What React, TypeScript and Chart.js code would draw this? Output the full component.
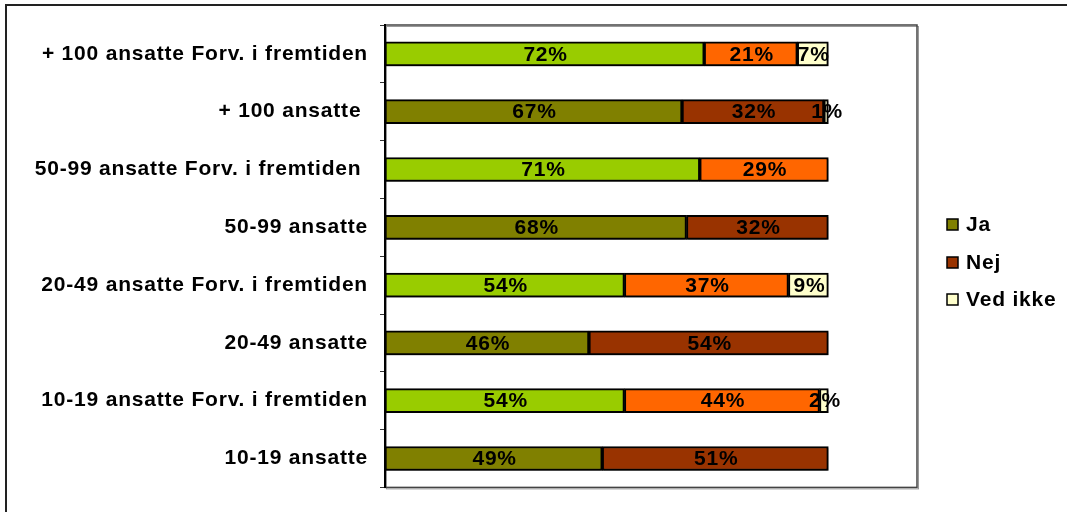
import { useEffect, useRef } from "react";
import { Chart, registerables } from "chart.js";

Chart.register(...registerables);

// ---- data ----
const categories = [
  "+ 100 ansatte Forv. i fremtiden",
  "+ 100 ansatte ",
  "50-99 ansatte Forv. i fremtiden ",
  "50-99 ansatte",
  "20-49 ansatte Forv. i fremtiden",
  "20-49 ansatte",
  "10-19 ansatte Forv. i fremtiden",
  "10-19 ansatte",
];
const jaValues = [72, 67, 71, 68, 54, 46, 54, 49];
const nejValues = [21, 32, 29, 32, 37, 54, 44, 51];
const vedIkkeValues = [7, 1, 0, 0, 9, 0, 2, 0];
const isFuture = [true, false, true, false, true, false, true, false];
const seriesNames = ["Ja", "Nej", "Ved ikke"];

// ---- styles ----
const currentColors = ["#808000", "#993300", "#FFFFCC"];
const futureColors = ["#99CC00", "#FF6600", "#FFFFCC"];
const FONT_FAMILY = 'Arial, "Liberation Sans", Helvetica, sans-serif';
const FONT_SIZE = 21;
const LETTER_SPACING = "0.8px";

export default function App() {
  const canvasRef = useRef<HTMLCanvasElement | null>(null);

  useEffect(() => {
    const canvas = canvasRef.current;
    if (!canvas) return;

    const seriesValues = [jaValues, nejValues, vedIkkeValues];

    const setSpacing = (chart: any) => {
      try {
        (chart.ctx as any).letterSpacing = LETTER_SPACING;
      } catch (e) {}
    };

    const framePlugin = {
      id: "frame",
      beforeLayout(chart: any) {
        setSpacing(chart);
      },
      beforeDraw(chart: any) {
        setSpacing(chart);
        const ctx = chart.ctx;
        const a = chart.chartArea;
        ctx.save();
        ctx.fillStyle = "#ffffff";
        ctx.fillRect(0, 0, chart.width, chart.height);
        // outer frame
        ctx.strokeStyle = "#222";
        ctx.lineWidth = 2;
        ctx.strokeRect(6, 5, chart.width + 20, chart.height + 20);
        // plot area frame (with slight shadow)
        ctx.strokeStyle = "#999";
        ctx.lineWidth = 1;
        ctx.strokeRect(a.left + 1.5, a.top + 1.5, a.right - a.left, a.bottom - a.top);
        ctx.strokeStyle = "#444";
        ctx.lineWidth = 1.5;
        ctx.strokeRect(a.left, a.top, a.right - a.left, a.bottom - a.top);
        ctx.restore();
      },
      beforeDatasetsDraw(chart: any) {
        const ctx = chart.ctx;
        ctx.save();
        ctx.shadowColor = "rgba(0,0,0,0.35)";
        ctx.shadowOffsetY = 2;
        ctx.shadowOffsetX = 0;
        ctx.shadowBlur = 0;
      },
      afterDatasetsDraw(chart: any) {
        const ctx = chart.ctx;
        ctx.restore();
        ctx.save();
        setSpacing(chart);
        ctx.font = `bold ${FONT_SIZE}px ${FONT_FAMILY}`;
        ctx.fillStyle = "#000";
        ctx.textAlign = "center";
        ctx.textBaseline = "middle";
        chart.data.datasets.forEach((ds: any, di: number) => {
          const meta = chart.getDatasetMeta(di);
          meta.data.forEach((el: any, i: number) => {
            const v = ds.data[i];
            if (!v) return;
            const p = el.getProps(["x", "y", "base"], true);
            ctx.fillText(`${v}%`, (p.x + p.base) / 2 + 1, p.y + 1);
          });
        });
        ctx.restore();
      },
      afterDraw(chart: any) {
        const ctx = chart.ctx;
        ctx.save();
        setSpacing(chart);
        ctx.font = `bold ${FONT_SIZE}px ${FONT_FAMILY}`;
        ctx.textAlign = "left";
        ctx.textBaseline = "middle";
        const ys = [224, 262, 299];
        seriesNames.forEach((name, i) => {
          const y = ys[i];
          ctx.fillStyle = currentColors[i];
          ctx.fillRect(947, y - 5, 11, 11);
          ctx.strokeStyle = "#000";
          ctx.lineWidth = 1.5;
          ctx.strokeRect(947, y - 5, 11, 11);
          ctx.fillStyle = "#000";
          ctx.fillText(name, 966, y + 1);
        });
        ctx.restore();
      },
    };

    const chart = new Chart(canvas, {
      type: "bar",
      data: {
        labels: categories,
        datasets: seriesNames.map((name, si) => ({
          label: name,
          data: seriesValues[si],
          backgroundColor: isFuture.map((f) => (f ? futureColors[si] : currentColors[si])),
          borderColor: "#000",
          borderWidth: 2,
          borderSkipped: false,
          barThickness: 24,
        })),
      },
      options: {
        indexAxis: "y",
        animation: false,
        responsive: false,
        maintainAspectRatio: false,
        devicePixelRatio: 1,
        layout: { padding: { left: 0, top: 25, right: 150, bottom: 15 } },
        plugins: {
          legend: { display: false },
          tooltip: { enabled: false },
          title: { display: false },
        },
        scales: {
          x: {
            display: false,
            stacked: true,
            min: 0,
            max: 120,
          },
          y: {
            stacked: true,
            grid: {
              display: true,
              drawOnChartArea: false,
              drawTicks: true,
              tickLength: 5,
              color: "#333",
              lineWidth: 1,
              offset: true,
            },
            border: { display: true, color: "#000", width: 2 },
            ticks: {
              color: "#000",
              padding: 12,
              autoSkip: false,
              font: { family: FONT_FAMILY, size: FONT_SIZE, weight: "bold" },
            },
            afterFit(scale: any) {
              scale.width = 385;
            },
          },
        },
      },
      plugins: [framePlugin],
    } as any);

    return () => chart.destroy();
  }, []);

  return (
    <div style={{ position: "fixed", left: 0, top: 0, width: 1067, height: 512, background: "#fff" }}>
      <canvas ref={canvasRef} width={1067} height={512} style={{ display: "block", width: 1067, height: 512 }} />
    </div>
  );
}
